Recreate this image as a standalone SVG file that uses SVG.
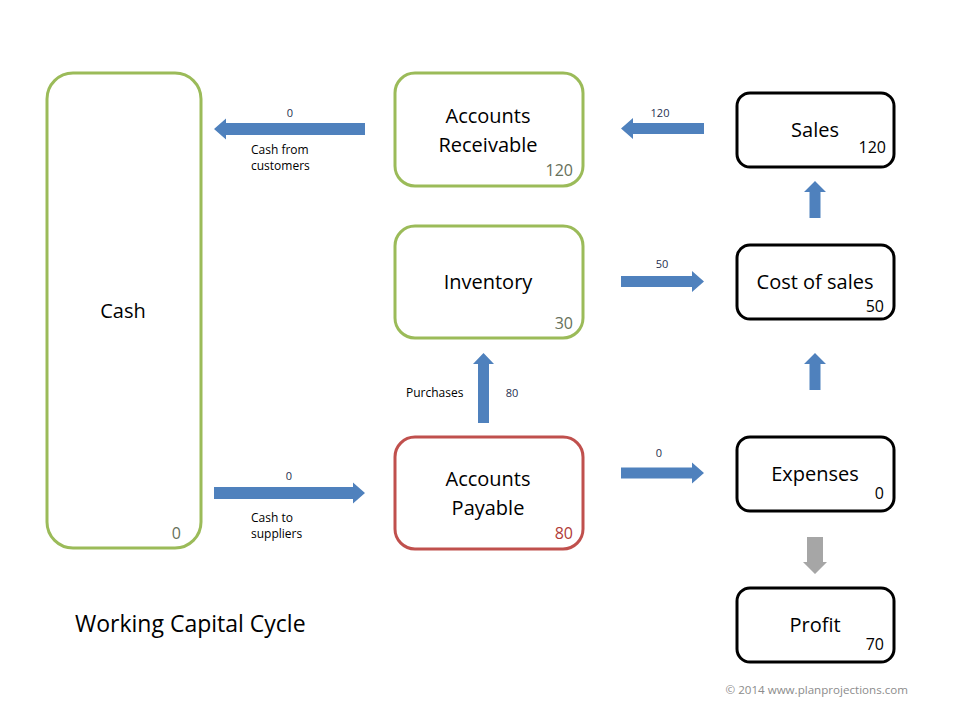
<svg xmlns="http://www.w3.org/2000/svg" width="960" height="720" viewBox="0 0 960 720">
<style>
.g{fill:#fff;stroke:#9BBB59;stroke-width:3}
.r{fill:#fff;stroke:#C0504D;stroke-width:3}
.b{fill:#fff;stroke:#000;stroke-width:3}
.t{font-family:"Open Sans","Liberation Sans",sans-serif;font-size:20px;fill:#000;text-anchor:middle}
.v{font-family:"Open Sans","Liberation Sans",sans-serif;font-size:16px;text-anchor:end}
.vg{fill:#66705A}
.vr{fill:#B03A37}
.vb{fill:#000}
.s{font-family:"Open Sans","Liberation Sans",sans-serif;font-size:12px;fill:#000}
.n{font-family:"Open Sans","Liberation Sans",sans-serif;font-size:11px;fill:#1F3050;text-anchor:middle}
.a{fill:#4F81BD}
.ag{fill:#A6A6A6}
</style>
<rect width="960" height="720" fill="#fff"/>
<g id="cash"><rect class="g" x="47" y="73" width="154" height="475" rx="26"/><text class="t" x="123" y="318">Cash</text><text class="v vg" x="181" y="539">0</text></g>
<g id="ar"><rect class="g" x="395" y="73" width="188" height="113" rx="20"/><text class="t" x="488" y="123">Accounts</text><text class="t" x="488" y="152">Receivable</text><text class="v vg" x="573" y="176">120</text></g>
<g id="inventory"><rect class="g" x="395" y="226" width="188" height="112" rx="20"/><text class="t" x="488" y="289">Inventory</text><text class="v vg" x="573" y="329">30</text></g>
<g id="ap"><rect class="r" x="395" y="437" width="188" height="112" rx="20"/><text class="t" x="488" y="486">Accounts</text><text class="t" x="488" y="515">Payable</text><text class="v vr" x="573" y="539">80</text></g>
<g id="sales"><rect class="b" x="737" y="93" width="157" height="74" rx="13"/><text class="t" x="815" y="137">Sales</text><text class="v vb" x="886" y="153">120</text></g>
<g id="cos"><rect class="b" x="737" y="245" width="157" height="74" rx="13"/><text class="t" x="815" y="289">Cost of sales</text><text class="v vb" x="884" y="312">50</text></g>
<g id="expenses"><rect class="b" x="737" y="437" width="157" height="74" rx="13"/><text class="t" x="815" y="481">Expenses</text><text class="v vb" x="884" y="499">0</text></g>
<g id="profit"><rect class="b" x="737" y="588" width="157" height="74" rx="13"/><text class="t" x="815" y="632">Profit</text><text class="v vb" x="884" y="650">70</text></g>
<g id="connectors">
<polygon class="a" points="365,123 226,123 226,118.5 214,129 226,139.5 226,135 365,135"/>
<polygon class="a" points="704,123 633,123 633,118 621,128.5 633,139 633,134 704,134"/>
<polygon class="a" points="621,276 692,276 692,271 704,281.5 692,292 692,287 621,287"/>
<polygon class="a" points="621,467.5 692,467.5 692,462.5 704,473 692,483.5 692,478.5 621,478.5"/>
<polygon class="a" points="214,487 353,487 353,482.5 365,493 353,503.5 353,499 214,499"/>
<polygon class="a" points="478,423 478,364 473,364 483.5,353 494,364 489,364 489,423"/>
<polygon class="a" points="809.5,218 809.5,192 804,192 815,181 826,192 820.5,192 820.5,218"/>
<polygon class="a" points="809.5,390 809.5,364 804,364 815,353 826,364 820.5,364 820.5,390"/>
<polygon class="ag" points="807,537 823,537 823,562 827,562 815,574 803,562 807,562"/>
<text class="n" x="290" y="117">0</text>
<text class="s" x="251" y="154">Cash from</text>
<text class="s" x="251" y="170">customers</text>
<text class="n" x="660" y="117">120</text>
<text class="n" x="662" y="268">50</text>
<text class="n" x="659" y="457">0</text>
<text class="n" x="289" y="480">0</text>
<text class="s" x="251" y="522">Cash to</text>
<text class="s" x="251" y="538">suppliers</text>
<text class="s" x="406" y="397">Purchases</text>
<text class="n" x="512" y="397">80</text>
</g>
<text x="75" y="632" font-family="Open Sans, Liberation Sans, sans-serif" font-size="23" fill="#000">Working Capital Cycle</text>
<text x="908" y="694" font-family="Open Sans, Liberation Sans, sans-serif" font-size="11.6" fill="#8C8C8C" text-anchor="end">© 2014 www.planprojections.com</text>
</svg>
